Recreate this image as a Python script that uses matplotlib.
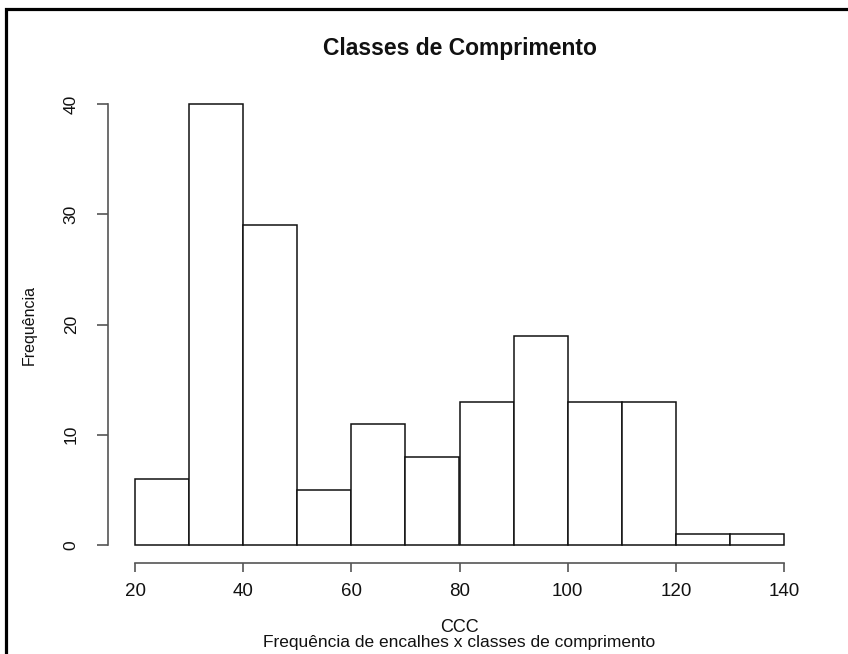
import numpy as np
import matplotlib
matplotlib.use("Agg")
import matplotlib.pyplot as plt
from matplotlib.patches import Rectangle

plt.rcParams['font.family'] = ['Liberation Sans', 'DejaVu Sans']

# class edges (CCC, cm) and number of strandings per class
breaks = [20, 30, 40, 50, 60, 70, 80, 90, 100, 110, 120, 130, 140]
counts = [6, 40, 29, 5, 11, 8, 13, 19, 13, 13, 1, 1]
x_ticks = [20, 40, 60, 80, 100, 120, 140]
y_ticks = [0, 10, 20, 30, 40]

W, H = 848, 654
fig = plt.figure(figsize=(W / 100, H / 100), dpi=100)
ax = fig.add_axes([135 / W, 1 - 545 / H, (784 - 135) / W, (545 - 104) / H])

left = np.array(breaks[:-1])
widths = np.diff(breaks)
ax.bar(left, counts, width=widths, align='edge', facecolor='white',
       edgecolor='#111111', linewidth=1.1, clip_on=False)

ax.set_xlim(breaks[0], breaks[-1])
ax.set_ylim(0, 40)

# R style detached axes
for s in ['top', 'right']:
    ax.spines[s].set_visible(False)
ax.spines['left'].set_position(('outward', 19.5))
ax.spines['bottom'].set_position(('outward', 13))
ax.spines['left'].set_bounds(0, 40)
ax.spines['bottom'].set_bounds(20, 140)
for s in ['left', 'bottom']:
    ax.spines[s].set_color('#555555')
    ax.spines[s].set_linewidth(1.2)

ax.set_xticks(x_ticks)
ax.set_yticks(y_ticks)
ax.tick_params(axis='both', width=1.2, color='#555555', labelcolor='#111111')
ax.tick_params(axis='x', length=6.5, pad=8, labelsize=13.5)
ax.tick_params(axis='y', length=8, pad=13, labelsize=12.5)
for lab in ax.get_yticklabels():
    lab.set_rotation(90)
    lab.set_va('center')

fig.text(459.5 / W, 1 - 49 / H, 'Classes de Comprimento', ha='center',
         va='center', fontsize=16.5, fontweight='bold', color='#111111')
fig.text(29 / W, 1 - 325 / H, 'Frequência', ha='center', va='center',
         rotation=90, fontsize=11.5, color='#111111')
fig.text(459.5 / W, 1 - 627 / H, 'CCC', ha='center', va='center',
         fontsize=13, color='#111111')
fig.text(459.5 / W, 1 - 642 / H, 'Frequência de encalhes x classes de comprimento',
         ha='center', va='center', fontsize=12.5, color='#111111')

# outer frame
fig.patches.append(Rectangle((6 / W, -0.05), 1.0, 1 - 9 / H + 0.05,
                             transform=fig.transFigure, fill=False,
                             edgecolor='black', linewidth=2.3))

fig.savefig('out.png', dpi=100)
